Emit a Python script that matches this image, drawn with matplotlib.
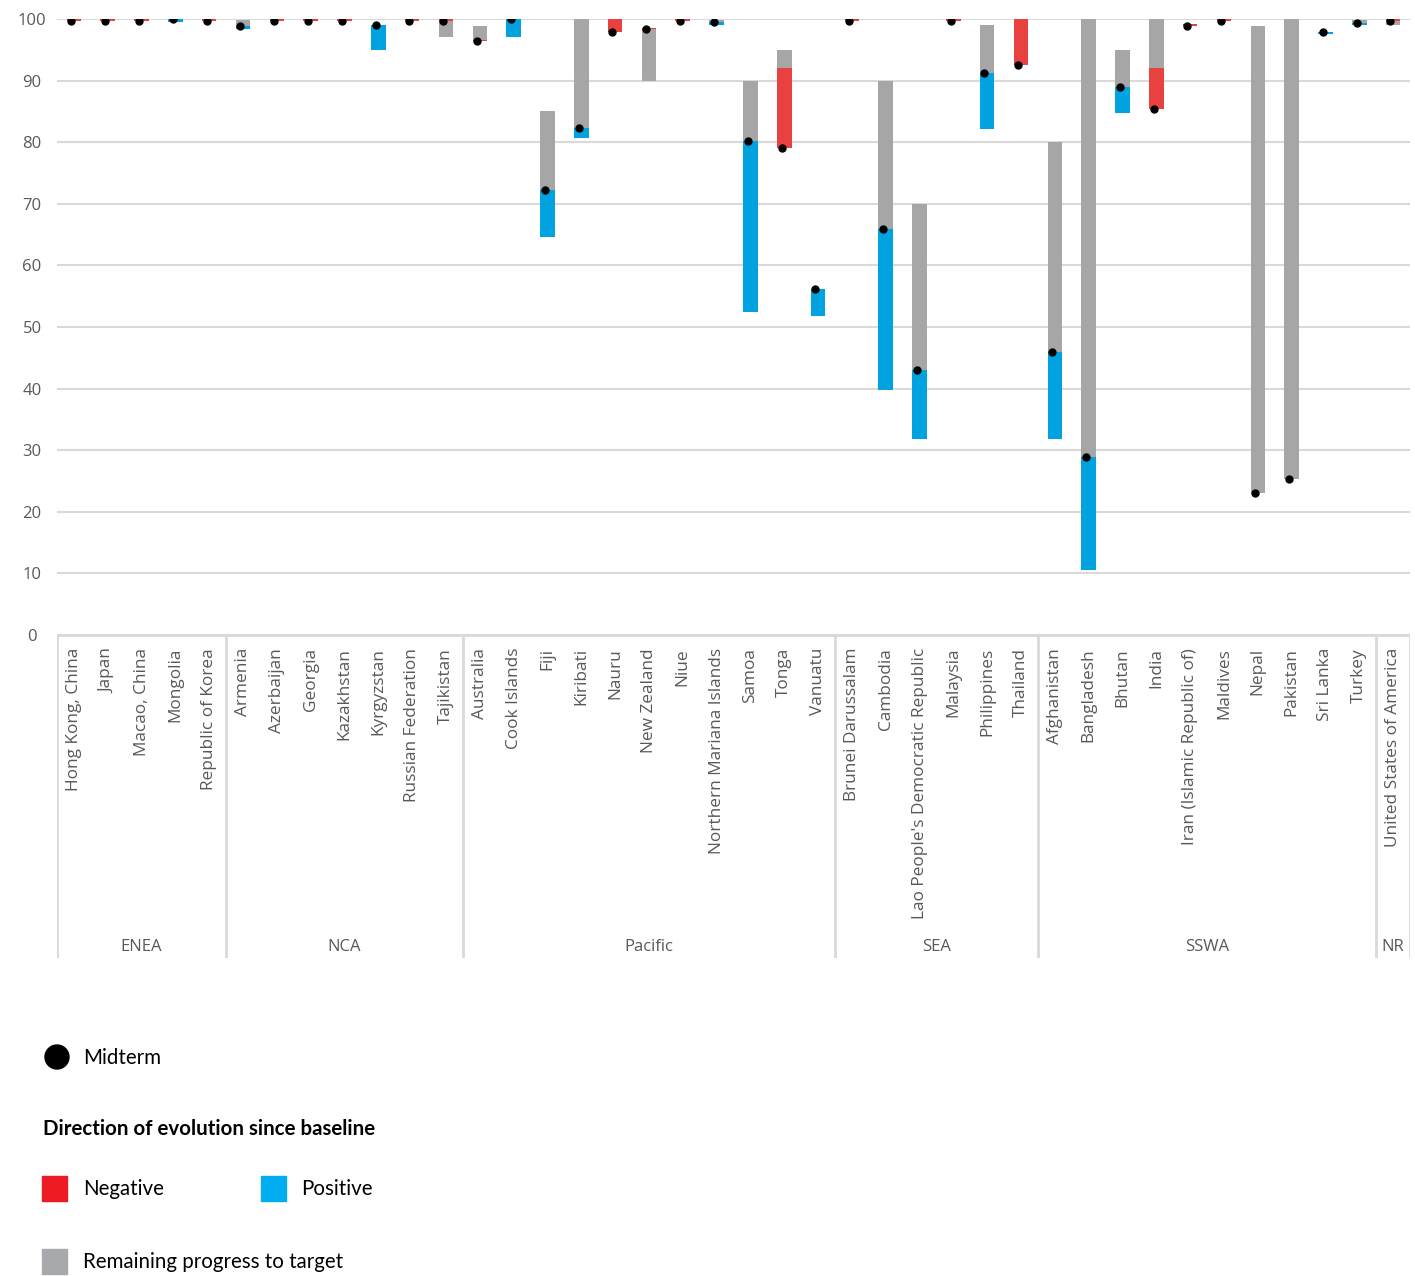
import matplotlib
matplotlib.use("Agg")
import matplotlib.pyplot as plt
from matplotlib.patches import Rectangle, Circle

plt.rcParams['font.family'] = ['Open Sans', 'DejaVu Sans']

# data
countries = [
    "Hong Kong, China", "Japan", "Macao, China", "Mongolia", "Republic of Korea",
    "Armenia", "Azerbaijan", "Georgia", "Kazakhstan", "Kyrgyzstan", "Russian Federation", "Tajikistan",
    "Australia", "Cook Islands", "Fiji", "Kiribati", "Nauru", "New Zealand", "Niue",
    "Northern Mariana Islands", "Samoa", "Tonga", "Vanuatu",
    "Brunei Darussalam", "Cambodia", "Lao People's Democratic Republic", "Malaysia", "Philippines", "Thailand",
    "Afghanistan", "Bangladesh", "Bhutan", "India", "Iran (Islamic Republic of)", "Maldives", "Nepal",
    "Pakistan", "Sri Lanka", "Turkey",
    "United States of America",
]
groups = ["ENEA", "NCA", "Pacific", "SEA", "SSWA", "NR"]
group_sizes = [5, 7, 11, 6, 10, 1]

baseline = [100, 100, 100, 99.5, 100,
            98.3, 100, 100, 100, 95.0, 100, 100,
            96.6, 97.0, 64.6, 80.7, 100, 98.5, 100, 99.0, 52.5, 92.0, 51.8,
            100, 39.7, 31.8, 100, 82.1, 100,
            31.8, 10.6, 84.7, 92.0, 99.2, 100, 23.0, 25.4, 97.6, 99.0,
            100]
midterm = [99.7, 99.7, 99.7, 100, 99.7,
           98.9, 99.7, 99.7, 99.7, 99.0, 99.7, 99.7,
           96.4, 100, 72.3, 82.3, 97.9, 98.3, 99.7, 99.5, 80.2, 79.0, 56.2,
           99.7, 65.9, 43.1, 99.7, 91.3, 92.6,
           45.9, 28.9, 88.9, 85.4, 98.9, 99.7, 23.0, 25.4, 97.9, 99.4,
           99.7]
target = [100, 100, 100, 100, 100,
          99.8, 100, 100, 100, 99.0, 100, 97.0,
          98.9, 100, 85, 100, 100, 90, 100, 99.8, 90, 95, 56.2,
          100, 90, 70, 100, 99, 100,
          80, 100, 95, 100, 99.2, 100, 98.9, 100, 97.9, 99.8,
          99.0]

RED = "#E8413F"
BLUE = "#00A3E0"
GRAY = "#A6A6A6"
TXT = "#595959"
GRID = "#D9D9D9"

W, H = 1415, 1276
fig = plt.figure(figsize=(W / 100, H / 100), dpi=100)

# main chart
ax = fig.add_axes([57 / W, 1 - 635 / H, (1410 - 57) / W, (635 - 19) / H])
n = len(countries)
xs = list(range(n))
bw = 0.43
for i in xs:
    b, m, t = baseline[i], midterm[i], target[i]
    lo, hi = min(b, m), max(b, m)
    if hi > lo:
        ax.bar(i, hi - lo, bottom=lo, width=bw, color=BLUE if m > b else RED, zorder=3)
    # remaining progress: from the nearest end of the change bar to the target
    if t > hi:
        ax.bar(i, t - hi, bottom=hi, width=bw, color=GRAY, zorder=2)
    elif t < lo:
        ax.bar(i, lo - t, bottom=t, width=bw, color=GRAY, zorder=2)
ax.plot([x - 0.08 for x in xs], midterm, "o", color="black", ms=5, zorder=4)

ax.set_xlim(-0.5, n - 0.5)
ax.set_ylim(0, 100)
ax.set_yticks(range(0, 101, 10))
ax.tick_params(axis="y", length=0, pad=18, labelsize=12, labelcolor=TXT)
ax.tick_params(axis="x", length=0, labelbottom=False)
ax.grid(axis="y", color=GRID, lw=1.5, zorder=0)
for s in ax.spines.values():
    s.set_visible(False)
for lab in ax.get_yticklabels():
    lab.set_horizontalalignment("center")

# category / group axis below
ax2 = fig.add_axes([57 / W, 1 - 958 / H, (1410 - 57) / W, (958 - 635) / H])
ax2.set_xlim(-0.5, n - 0.5)
ax2.set_ylim(0, 1)
ax2.axis("off")
ax2.axhline(1, color=GRID, lw=2)
for i, name in enumerate(countries):
    ax2.text(i, 0.96, name, rotation=90, ha="center", va="top", fontsize=12.4, color=TXT)
edge = -0.5
ax2.axvline(edge, color=GRID, lw=2)
for g, size in zip(groups, group_sizes):
    ax2.text(edge + size / 2, 0.035, g, ha="center", va="center", fontsize=12, color=TXT)
    edge += size
    ax2.axvline(edge, color=GRID, lw=2)

# legend drawn in pixel coordinates
lg = fig.add_axes([0, 0, 1, 1])
lg.set_xlim(0, W)
lg.set_ylim(H, 0)
lg.axis("off")
lg.add_patch(Circle((57, 1057), 12, color="black"))
lg.text(83, 1058, "Midterm", fontsize=14.8, va="center", family="Lato")
lg.text(43, 1129, "Direction of evolution since baseline", fontsize=14.8, va="center",
        fontweight="bold", family="Lato")
lg.add_patch(Rectangle((42, 1176), 25, 25, color="#ED1C24"))
lg.text(83, 1189, "Negative", fontsize=14.8, va="center", family="Lato")
lg.add_patch(Rectangle((261, 1176), 25, 25, color="#00AEEF"))
lg.text(301, 1189, "Positive", fontsize=14.8, va="center", family="Lato")
lg.add_patch(Rectangle((42, 1249), 25, 25, color="#A7A9AC"))
lg.text(83, 1262, "Remaining progress to target", fontsize=14.8, va="center", family="Lato")

fig.savefig("out.png", dpi=100)
